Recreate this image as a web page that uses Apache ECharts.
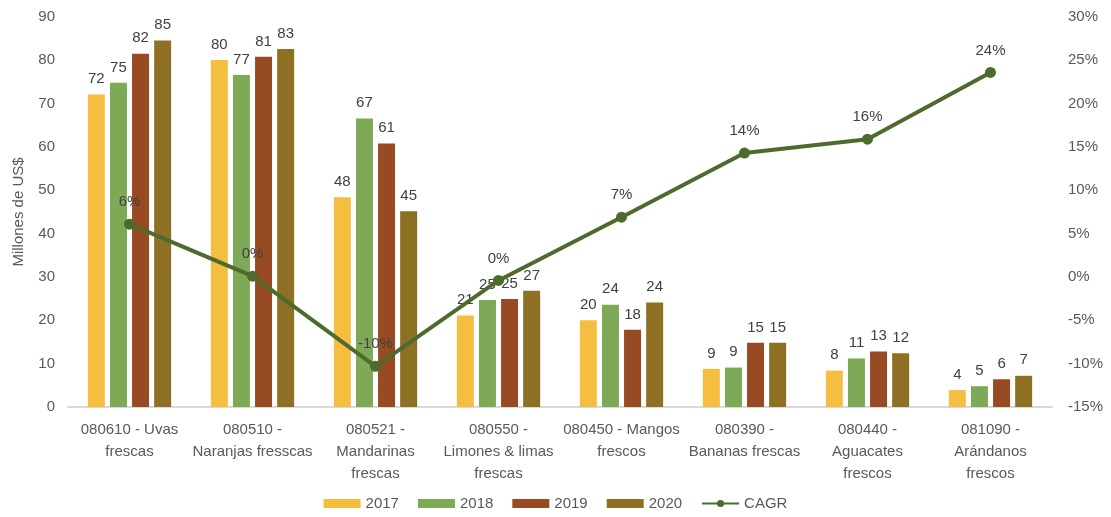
<!DOCTYPE html>
<html>
<head>
<meta charset="utf-8">
<script src="https://cdn.jsdelivr.net/npm/echarts@6/dist/echarts.min.js"></script>
<style>
  html, body { margin: 0; padding: 0; background: #fff; }
  #box01 { width: 1111px; height: 517px; }
</style>
</head>
<body>
<div id="box01"></div>
<script>
// categorias (eje x)
var categories = [
    '080610 - Uvas\nfrescas',
    '080510 -\nNaranjas fresscas',
    '080521 -\nMandarinas\nfrescas',
    '080550 -\nLimones & limas\nfrescas',
    '080450 - Mangos\nfrescos',
    '080390 -\nBananas frescas',
    '080440 -\nAguacates\nfrescos',
    '081090 -\nArándanos\nfrescos'
];

// millones de US$
var data2017 = [72.1, 80.1, 48.4, 21.1, 20.0, 8.8, 8.4, 3.9];
var data2018 = [74.8, 76.6, 66.6, 24.7, 23.6, 9.1, 11.2, 4.8];
var data2019 = [81.5, 80.8, 60.8, 24.9, 17.8, 14.8, 12.8, 6.4];
var data2020 = [84.6, 82.6, 45.2, 26.8, 24.1, 14.8, 12.4, 7.2];

// CAGR en %
var cagr = [6.1, 0.1, -10.3, -0.4, 6.9, 14.3, 15.9, 23.6];

var txtFont = 'Liberation Sans, sans-serif';
var labelColor = '#404040';
var axisColor = '#595959';

var myChart = echarts.init(document.getElementById('box01'));

function barSerie(name, data, color) {
    return {
        name: name,
        type: 'bar',
        data: data,
        barWidth: 17,
        barGap: '30%',
        itemStyle: { color: color },
        label: {
            show: true,
            position: 'top',
            distance: 8,
            color: labelColor,
            fontFamily: txtFont,
            fontSize: 15,
            formatter: function (p) { return Math.round(p.value); }
        }
    };
}

var option = {
    animation: false,
    textStyle: { fontFamily: txtFont },
    grid: { left: 68, right: 59, top: 17, bottom: 110, containLabel: false },
    legend: {
        bottom: 1,
        left: 'center',
        itemWidth: 37,
        itemHeight: 9,
        itemGap: 19,
        textStyle: { color: axisColor, fontSize: 15, fontFamily: txtFont },
        data: [
            { name: '2017', icon: 'rect' },
            { name: '2018', icon: 'rect' },
            { name: '2019', icon: 'rect' },
            { name: '2020', icon: 'rect' },
            { name: 'CAGR' }
        ]
    },
    xAxis: [{
        type: 'category',
        data: categories,
        axisLine: { lineStyle: { color: '#d9d9d9', width: 2 } },
        axisTick: { show: false },
        axisLabel: {
            interval: 0,
            color: axisColor,
            fontSize: 15,
            lineHeight: 22,
            margin: 12,
            fontFamily: txtFont
        }
    }],
    yAxis: [{
        type: 'value',
        name: 'Millones de US$',
        nameLocation: 'middle',
        nameGap: 42,
        nameTextStyle: { color: axisColor, fontSize: 15, fontFamily: txtFont },
        min: 0,
        max: 90,
        interval: 10,
        splitLine: { show: false },
        axisLine: { show: false },
        axisTick: { show: false },
        axisLabel: { color: axisColor, fontSize: 15, margin: 13, fontFamily: txtFont }
    }, {
        type: 'value',
        min: -15,
        max: 30,
        interval: 5,
        splitLine: { show: false },
        axisLine: { show: false },
        axisTick: { show: false },
        axisLabel: {
            color: axisColor, fontSize: 15, margin: 16, fontFamily: txtFont,
            formatter: '{value}%'
        }
    }],
    series: [
        barSerie('2017', data2017, '#F5BE41'),
        barSerie('2018', data2018, '#7EA956'),
        barSerie('2019', data2019, '#984B22'),
        barSerie('2020', data2020, '#8E7024'),
        {
            name: 'CAGR',
            type: 'line',
            yAxisIndex: 1,
            data: cagr,
            symbol: 'circle',
            symbolSize: 11,
            itemStyle: { color: '#4E6B2D' },
            lineStyle: { color: '#4E6B2D', width: 4 },
            label: {
                show: true,
                position: 'top',
                distance: 9,
                color: labelColor,
                fontFamily: txtFont,
                fontSize: 15,
                formatter: function (p) { return Math.round(p.value) + '%'; }
            },
            z: 5
        }
    ]
};

myChart.setOption(option);
</script>
</body>
</html>
